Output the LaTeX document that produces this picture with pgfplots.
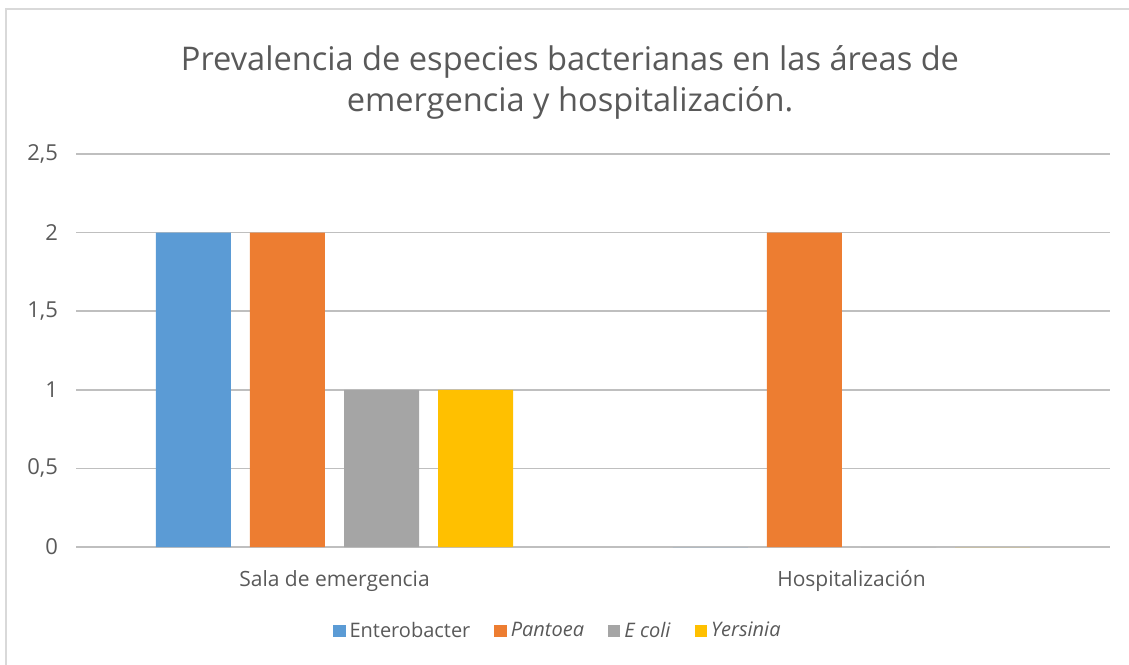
\documentclass[border=0pt]{standalone}
\usepackage{pgfplots}
\pgfplotsset{compat=1.18}
\usepackage{fontspec}
\setmainfont{Open Sans}
\definecolor{cBlue}{HTML}{5B9BD5}
\definecolor{cOrange}{HTML}{ED7D31}
\definecolor{cGray}{HTML}{A5A5A5}
\definecolor{cYellow}{HTML}{FFC000}
\definecolor{txt}{HTML}{595959}
\definecolor{grid}{HTML}{D9D9D9}
\pgfplotsset{sqleg/.style={legend image code/.code={\fill[##1] (0pt,-3.1pt) rectangle (6.2pt,3.1pt);}}}
\begin{document}
\begin{tikzpicture}
\useasboundingbox (0,0) rectangle (564.5pt,332pt);
\draw[grid, line width=0.8pt] (3pt,-10pt) rectangle (600pt,327.5pt);
\node[text=txt, font=\fontsize{16.3}{20.5}\selectfont, align=center] at (285pt,291pt)
  {Prevalencia de especies bacterianas en las áreas de\\emergencia y hospitalización.};
\begin{axis}[
  at={(38pt,58.5pt)}, anchor=south west,
  scale only axis, width=517pt, height=196.5pt,
  ybar, bar width=0.145,
  xmin=-0.5, xmax=1.5, ymin=0, ymax=2.5,
  xtick={0,1}, xticklabels={Sala de emergencia, Hospitalización},
  ytick={0,0.5,1,1.5,2,2.5},
  /pgf/number format/assume math mode=true,
  /pgf/number format/use comma,
  yticklabel style={font=\fontsize{11}{13}\selectfont, text=txt, xshift=-5.5pt},
  xticklabel style={font=\fontsize{10.5}{13}\selectfont, text=txt, yshift=-8pt},
  major tick length=0pt,
  axis line style={draw=none},
  xmajorgrids=false, ymajorgrids=true, grid style={grid, line width=0.8pt},
  legend style={at={(0.467,-0.2137)}, anchor=center, draw=none, fill=none,
    legend columns=4, font=\fontsize{10}{13}\selectfont, text=txt,
    /tikz/every even column/.append style={column sep=10pt},
    inner sep=0pt},
]
\addplot[fill=cBlue, draw=none, bar shift=-0.273, sqleg] coordinates {(0,2) (1,0)};
\addplot[fill=cOrange, draw=none, bar shift=-0.091, sqleg] coordinates {(0,2) (1,2)};
\addplot[fill=cGray, draw=none, bar shift=0.091, sqleg] coordinates {(0,1) (1,0)};
\addplot[fill=cYellow, draw=none, bar shift=0.273, sqleg] coordinates {(0,1) (1,0)};
\legend{Enterobacter, \textit{Pantoea}, \textit{E coli}, \textit{Yersinia}}
\end{axis}
\end{tikzpicture}
\end{document}
